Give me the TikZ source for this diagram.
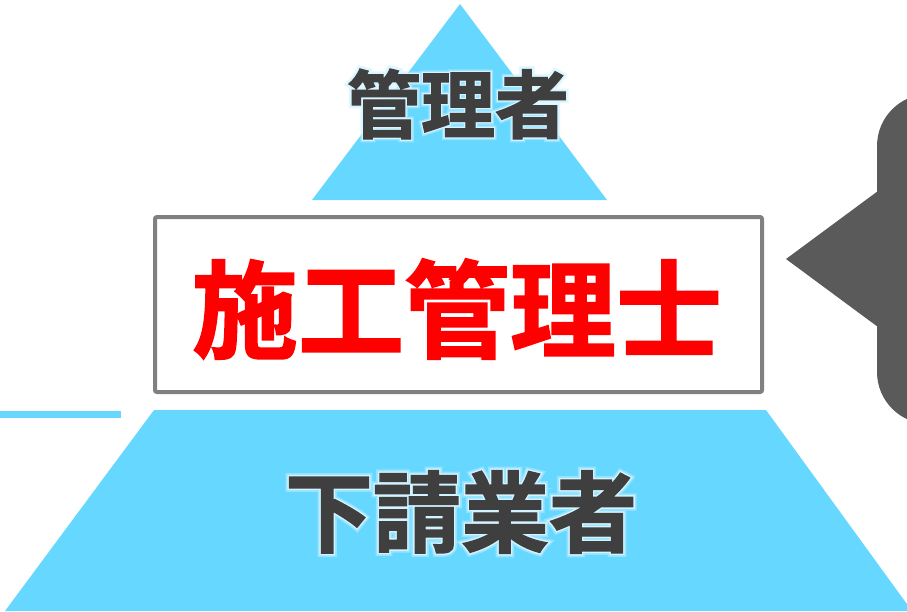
\documentclass[tikz,border=0pt]{standalone}
\usepackage{xcolor}
\usepackage{fontspec}
\usepackage{tikz}
\usetikzlibrary{positioning, calc}
\newfontfamily\cjk{Noto Sans CJK JP Bold}[FakeBold=1.6]
\newfontfamily\cjkglow{Noto Sans CJK JP Bold}[FakeBold=9]
\newfontfamily\cjkhalo{Noto Sans CJK JP Bold}[FakeBold=5]
\definecolor{pyrcyan}{HTML}{66D7FF}
\definecolor{pyrgray}{HTML}{3F3F3F}
\definecolor{pyrred}{HTML}{FF0000}
\definecolor{boxgray}{HTML}{808080}
\definecolor{tabgray}{HTML}{5A5A5A}

\tikzset{
  level/.style={fill=pyrcyan, draw=none},
  rolelabel/.style={text=pyrgray, inner sep=0pt},
  glowlabel/.style={text=white!60!pyrcyan, inner sep=0pt, opacity=0.5},
  halolabel/.style={text=white!75!pyrcyan, inner sep=0pt, opacity=0.9},
}

\begin{document}
\begin{tikzpicture}[x=1pt, y=-1pt]
  \useasboundingbox (0,0) rectangle (907,611);
  % pyramid top and bottom
  \fill[level] (460,4) -- (607,200) -- (312,200) -- cycle;
  \fill[level] (154,410) -- (766,410) -- (912,611) -- (5,611) -- cycle;
  \fill[level] (0,411) rectangle (121,418);
  % pointer on the right
  \fill[tabgray, rounded corners=52pt] (877,94) rectangle (960,424);
  \fill[tabgray] (786,259) -- (878,191) -- (878,327) -- cycle;
  % middle box
  \node[draw=boxgray, line width=4pt, fill=white, rounded corners=2pt,
        minimum width=607pt, minimum height=175pt] (box) at (458.5,304.5) {};
  \node[text=pyrred, inner sep=0pt, font=\cjk\fontsize{106}{106}\selectfont] (kanri)
    at (457,309) {施工管理士};
  % labels
  \node[glowlabel, font=\cjkglow\fontsize{74}{74}\selectfont] at (458,104) {管理者};
  \node[halolabel, font=\cjkhalo\fontsize{74}{74}\selectfont] at (458,104) {管理者};
  \node[rolelabel, font=\cjk\fontsize{74}{74}\selectfont] (top) at (458,104) {管理者};
  \node[glowlabel, font=\cjkglow\fontsize{88}{88}\selectfont] at (461,512) {下請業者};
  \node[halolabel, font=\cjkhalo\fontsize{88}{88}\selectfont] at (461,512) {下請業者};
  \node[rolelabel, font=\cjk\fontsize{88}{88}\selectfont] (bottom) at (461,512) {下請業者};
\end{tikzpicture}
\end{document}
